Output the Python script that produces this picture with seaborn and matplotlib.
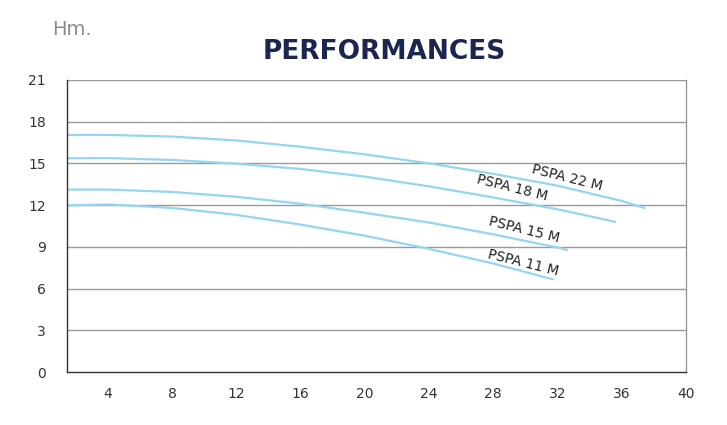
import numpy as np
import pandas as pd
import matplotlib
matplotlib.use("Agg")
import matplotlib.pyplot as plt
import seaborn as sns

# Flow (m3/h) and head (Hm.) values
x_22 = [1.4, 4, 8, 12, 16, 20, 24, 28, 32, 36, 37.4]
y_22 = [17.05, 17.05, 16.93, 16.65, 16.2, 15.65, 15.0, 14.25, 13.4, 12.3, 11.8]
x_18 = [1.4, 4, 8, 12, 16, 20, 24, 28, 32, 35.6]
y_18 = [15.37, 15.38, 15.25, 14.98, 14.6, 14.05, 13.35, 12.55, 11.7, 10.8]
x_15 = [1.4, 4, 8, 12, 16, 20, 24, 28, 32, 32.6]
y_15 = [13.12, 13.12, 12.95, 12.6, 12.1, 11.45, 10.75, 9.9, 8.95, 8.78]
x_11 = [1.4, 4, 8, 12, 16, 20, 24, 28, 31.7]
y_11 = [11.98, 12.05, 11.8, 11.3, 10.6, 9.8, 8.85, 7.8, 6.67]

series_names = ["PSPA 22 M", "PSPA 18 M", "PSPA 15 M", "PSPA 11 M"]
x_ticks = [4, 8, 12, 16, 20, 24, 28, 32, 36, 40]
y_ticks = [0, 3, 6, 9, 12, 15, 18, 21]
title = "PERFORMANCES"
unit_label = "Hm."

frames = []
for name, xs, ys in zip(series_names, [x_22, x_18, x_15, x_11], [y_22, y_18, y_15, y_11]):
    frames.append(pd.DataFrame({"flow": xs, "head": ys, "model": name}))
df = pd.concat(frames, ignore_index=True)

sns.set_style("white")
plt.rcParams["font.family"] = ["DejaVu Sans"]

fig = plt.figure(figsize=(7.27, 4.25), dpi=100)
ax = fig.add_axes([0.0917, 0.1247, 0.8519, 0.6871])

line_color = "#93d5f2"
sns.lineplot(data=df, x="flow", y="head", units="model", estimator=None,
             color=line_color, linewidth=1.6, ax=ax, sort=False)

ax.set_xlim(1.43, 40)
ax.set_ylim(0, 21)
ax.set_xticks(x_ticks)
ax.set_yticks(y_ticks)
ax.set_xticklabels([str(t) for t in x_ticks])
ax.set_yticklabels([str(t) for t in y_ticks])
ax.set_xlabel("")
ax.set_ylabel("")

for yv in y_ticks[1:]:
    ax.axhline(yv, color="#9a9a9a", linewidth=1.0, zorder=0)

for s in ["left", "bottom"]:
    ax.spines[s].set_color("#333333")
    ax.spines[s].set_linewidth(1.0)
ax.spines["right"].set_color("#9a9a9a")
ax.spines["right"].set_linewidth(1.0)
ax.spines["top"].set_visible(False)

ax.tick_params(axis="both", direction="out", length=5, width=1, color="#333333",
               labelsize=10, labelcolor="#333333", pad=4)
ax.tick_params(axis="y", pad=10)
ax.tick_params(axis="x", pad=6)

# curve labels
label_pos = {"PSPA 22 M": (32.6, 13.98), "PSPA 18 M": (29.2, 13.24),
             "PSPA 15 M": (29.9, 10.22), "PSPA 11 M": (29.85, 7.84)}
for name in series_names:
    lx, ly = label_pos[name]
    ax.text(lx, ly, name, rotation=-14, ha="center", va="center",
            fontsize=10, color="#222222", rotation_mode="anchor")

fig.text(0.529, 0.877, title, ha="center", va="center", fontsize=19,
         fontweight="bold", color="#1b2550")
fig.text(0.072, 0.93, unit_label, ha="left", va="center", fontsize=14,
         color="#8a8a8a")

fig.savefig("out.png", dpi=100)
